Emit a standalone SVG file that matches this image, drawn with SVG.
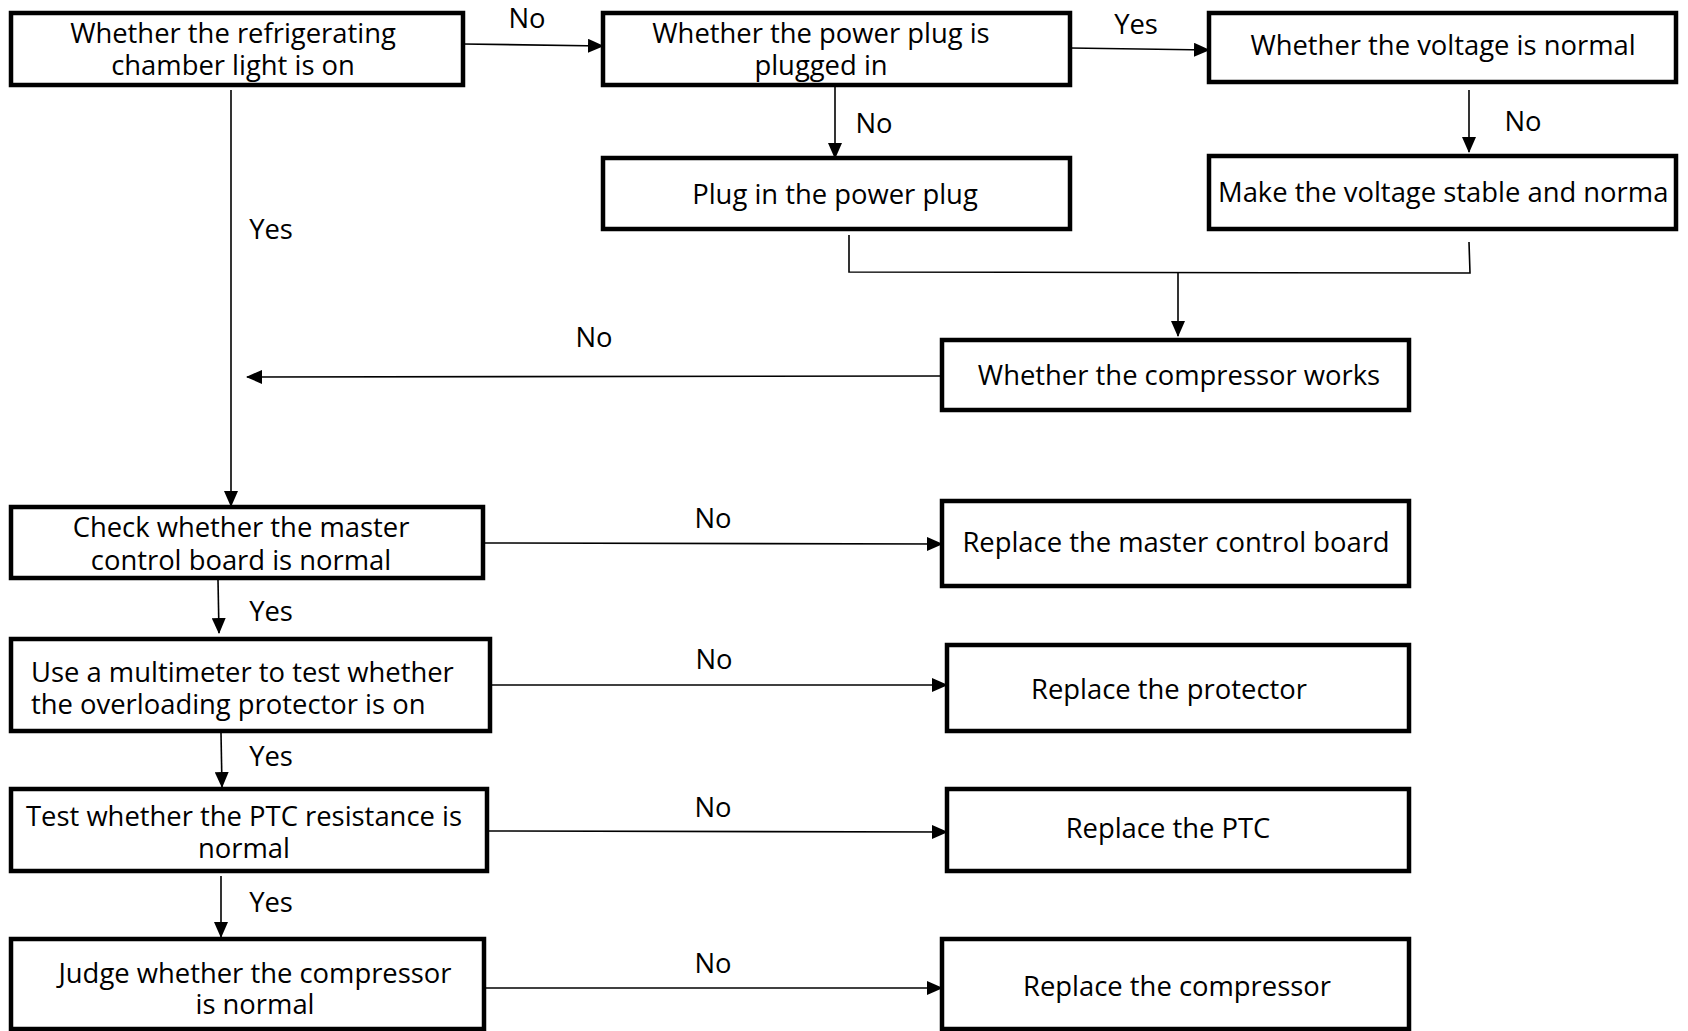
<svg xmlns="http://www.w3.org/2000/svg" width="1688" height="1031" viewBox="0 0 1688 1031">
<defs>
<style>
.box{fill:#fff;stroke:#000;stroke-width:4.5}
.t{font-family:"Open Sans","Noto Sans",sans-serif;font-size:27.4px;fill:#000;text-anchor:middle}
.tl{font-family:"Open Sans","Noto Sans",sans-serif;font-size:27.4px;fill:#000}
.c{fill:none;stroke:#000;stroke-width:1.6}
</style>
<marker id="ar" markerUnits="userSpaceOnUse" markerWidth="16" markerHeight="14" refX="15" refY="7" orient="auto">
<path d="M0,0 L16,7 L0,14 Z" fill="#000"/>
</marker>
</defs>
<rect width="1688" height="1031" fill="#fff"/>
<g id="connectors">
<line class="c" x1="463" y1="44" x2="603" y2="46" marker-end="url(#ar)"/>
<line class="c" x1="1070" y1="48" x2="1209" y2="50" marker-end="url(#ar)"/>
<line class="c" x1="835" y1="85" x2="835" y2="158" marker-end="url(#ar)"/>
<line class="c" x1="1469" y1="90" x2="1469" y2="152" marker-end="url(#ar)"/>
<polyline class="c" points="849,235 849,272 1470,273 1469,242"/>
<line class="c" x1="1178" y1="273" x2="1178" y2="336" marker-end="url(#ar)"/>
<line class="c" x1="942" y1="376" x2="247" y2="377" marker-end="url(#ar)"/>
<line class="c" x1="231" y1="90" x2="231" y2="506" marker-end="url(#ar)"/>
<line class="c" x1="483" y1="543" x2="942" y2="544" marker-end="url(#ar)"/>
<line class="c" x1="218" y1="580" x2="219" y2="633" marker-end="url(#ar)"/>
<line class="c" x1="490" y1="685" x2="947" y2="685" marker-end="url(#ar)"/>
<line class="c" x1="221" y1="733" x2="222" y2="787" marker-end="url(#ar)"/>
<line class="c" x1="487" y1="831" x2="947" y2="832" marker-end="url(#ar)"/>
<line class="c" x1="221" y1="876" x2="221" y2="937" marker-end="url(#ar)"/>
<line class="c" x1="484" y1="988" x2="942" y2="988" marker-end="url(#ar)"/>
</g>
<g id="labels">
<text class="t" x="527" y="28">No</text>
<text class="t" x="1136" y="34">Yes</text>
<text class="t" x="874" y="133">No</text>
<text class="t" x="1523" y="131">No</text>
<text class="t" x="271" y="239">Yes</text>
<text class="t" x="594" y="347">No</text>
<text class="t" x="713" y="528">No</text>
<text class="t" x="271" y="621">Yes</text>
<text class="t" x="714" y="669">No</text>
<text class="t" x="271" y="766">Yes</text>
<text class="t" x="713" y="817">No</text>
<text class="t" x="271" y="912">Yes</text>
<text class="t" x="713" y="973">No</text>
</g>
<g id="n1"><rect class="box" x="11" y="13" width="452" height="72"/><text class="t" x="233" y="43">Whether the refrigerating</text><text class="t" x="233" y="75">chamber light is on</text></g>
<g id="n2"><rect class="box" x="603" y="13" width="467" height="72"/><text class="t" x="821" y="43">Whether the power plug is</text><text class="t" x="821" y="75">plugged in</text></g>
<g id="n3"><rect class="box" x="1209" y="13" width="467" height="69"/><text class="t" x="1443" y="55">Whether the voltage is normal</text></g>
<g id="n4"><rect class="box" x="603" y="158" width="467" height="71"/><text class="t" x="835" y="204">Plug in the power plug</text></g>
<g id="n5"><rect class="box" x="1209" y="156" width="467" height="73"/><text class="tl" x="1218" y="202">Make the voltage stable and norma</text></g>
<g id="n6"><rect class="box" x="942" y="340" width="467" height="70"/><text class="t" x="1179" y="385">Whether the compressor works</text></g>
<g id="n7"><rect class="box" x="11" y="507" width="472" height="71"/><text class="t" x="241" y="537">Check whether the master</text><text class="t" x="241" y="570">control board is normal</text></g>
<g id="n8"><rect class="box" x="942" y="501" width="467" height="85"/><text class="t" x="1176" y="552">Replace the master control board</text></g>
<g id="n9"><rect class="box" x="11" y="639" width="479" height="92"/><text class="tl" x="31" y="682">Use a multimeter to test whether</text><text class="tl" x="31" y="714">the overloading protector is on</text></g>
<g id="n10"><rect class="box" x="947" y="645" width="462" height="86"/><text class="t" x="1169" y="699">Replace the protector</text></g>
<g id="n11"><rect class="box" x="11" y="789" width="476" height="82"/><text class="t" x="244" y="826">Test whether the PTC resistance is</text><text class="t" x="244" y="858">normal</text></g>
<g id="n12"><rect class="box" x="947" y="789" width="462" height="82"/><text class="t" x="1168" y="838">Replace the PTC</text></g>
<g id="n13"><rect class="box" x="11" y="939" width="473" height="90"/><text class="t" x="255" y="983">Judge whether the compressor</text><text class="t" x="255" y="1014">is normal</text></g>
<g id="n14"><rect class="box" x="942" y="939" width="467" height="90"/><text class="t" x="1177" y="996">Replace the compressor</text></g>
</svg>
